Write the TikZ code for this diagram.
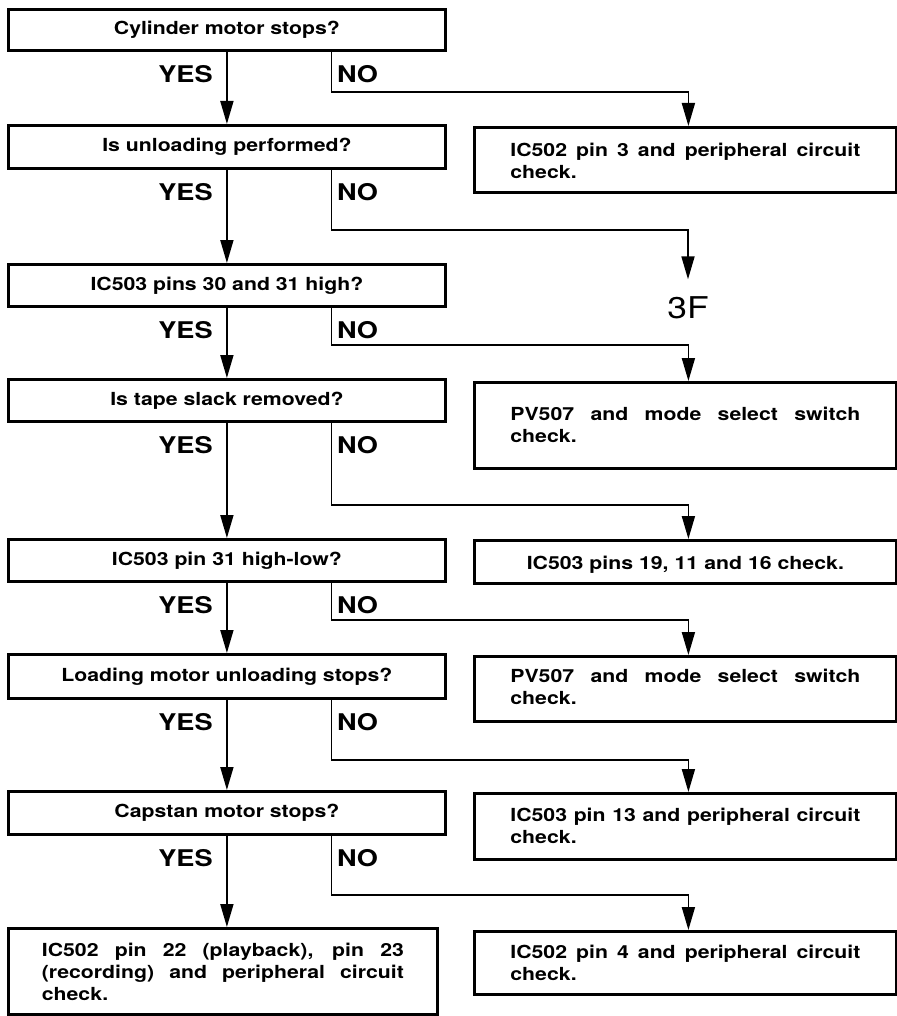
\documentclass[tikz,border=0pt]{standalone}
\usepackage{fontspec}
\setmainfont{TeX Gyre Heros}[FakeStretch=1.18]
\usetikzlibrary{arrows.meta, positioning}

\begin{document}
\begin{tikzpicture}[
    x=1pt, y=1pt,
    % Styles for boxes, labels and arrows
    question/.style={draw, rectangle, line width=2.8pt, anchor=north west,
        minimum width=437pt, inner sep=0pt, font=\bfseries\fontsize{18}{22}\selectfont},
    remedy/.style={draw, rectangle, line width=2.8pt, anchor=north west,
        text width=350pt, inner xsep=36pt, inner ysep=5pt, align=justify,
        font=\bfseries\fontsize{18}{22}\selectfont},
    answer/.style={inner sep=0pt, font=\bfseries\fontsize{23}{23}\selectfont},
    connector/.style={-{Triangle[length=23pt, width=13pt]}, line width=1.8pt}
]
    \useasboundingbox (0,0) rectangle (896,-1016);

    % --- QUESTIONS ---
    % Left column, top to bottom
    \node[question, minimum height=41pt] (q1) at (7,-8) {Cylinder motor stops?};
    \node[question, minimum height=43pt] (q2) at (7,-124) {Is unloading performed?};
    \node[question, minimum height=42pt] (q3) at (7,-263) {IC503 pins 30 and 31 high?};
    \node[question, minimum height=42pt] (q4) at (7,-378) {Is tape slack removed?};
    \node[question, minimum height=42pt] (q5) at (7,-538) {IC503 pin 31 high-low?};
    \node[question, minimum height=44pt] (q6) at (7,-653) {Loading motor unloading stops?};
    \node[question, minimum height=43pt] (q7) at (7,-790) {Capstan motor stops?};
    \node[remedy, text width=362pt, inner xsep=33.5pt, text height=23pt, text depth=53pt] (chk7) at (7,-927)
        {IC502 pin 22 (playback), pin 23\linebreak (recording) and peripheral circuit\linebreak check.};

    % --- CHECKS ---
    % Right column
    \node[remedy, text height=24pt, text depth=31pt] (chk1) at (473,-126)
        {IC502 pin 3 and peripheral circuit\linebreak check.};
    \node[font=\fontsize{30}{30}\selectfont] (f3) at (688,-308) {3F};
    \node[remedy, text height=33pt, text depth=43pt] (chk2) at (473,-381)
        {PV507 and mode select switch\linebreak check.};
    \node[remedy, align=center, text height=24pt, text depth=9pt] (chk3) at (473,-539)
        {IC503 pins 19, 11 and 16 check.};
    \node[remedy, text height=21pt, text depth=34pt] (chk4) at (473,-655)
        {PV507 and mode select switch\linebreak check.};
    \node[remedy, text height=23pt, text depth=33pt] (chk5) at (473,-792)
        {IC503 pin 13 and peripheral circuit\linebreak check.};
    \node[remedy, text height=22pt, text depth=31pt] (chk6) at (473,-930)
        {IC502 pin 4 and peripheral circuit\linebreak check.};

    % --- YES / NO LABELS ---
    \node[answer, anchor=east] (yes1) at ([xshift=-14pt, yshift=-22pt]q1.south) {YES};
    \node[answer, anchor=west] (no1) at ([xshift=110pt, yshift=-22pt]q1.south) {NO};
    \node[answer, anchor=east] (yes2) at ([xshift=-14pt, yshift=-22pt]q2.south) {YES};
    \node[answer, anchor=west] (no2) at ([xshift=110pt, yshift=-22pt]q2.south) {NO};
    \node[answer, anchor=east] (yes3) at ([xshift=-14pt, yshift=-22pt]q3.south) {YES};
    \node[answer, anchor=west] (no3) at ([xshift=110pt, yshift=-22pt]q3.south) {NO};
    \node[answer, anchor=east] (yes4) at ([xshift=-14pt, yshift=-22pt]q4.south) {YES};
    \node[answer, anchor=west] (no4) at ([xshift=110pt, yshift=-22pt]q4.south) {NO};
    \node[answer, anchor=east] (yes5) at ([xshift=-14pt, yshift=-22pt]q5.south) {YES};
    \node[answer, anchor=west] (no5) at ([xshift=110pt, yshift=-22pt]q5.south) {NO};
    \node[answer, anchor=east] (yes6) at ([xshift=-14pt, yshift=-22pt]q6.south) {YES};
    \node[answer, anchor=west] (no6) at ([xshift=110pt, yshift=-22pt]q6.south) {NO};
    \node[answer, anchor=east] (yes7) at ([xshift=-14pt, yshift=-22pt]q7.south) {YES};
    \node[answer, anchor=west] (no7) at ([xshift=110pt, yshift=-22pt]q7.south) {NO};

    % --- CONNECTIONS ---
    % YES path straight down
    \draw[connector] (q1) -- (q2);
    \draw[connector] (q2) -- (q3);
    \draw[connector] (q3) -- (q4);
    \draw[connector] (q4) -- (q5);
    \draw[connector] (q5) -- (q6);
    \draw[connector] (q6) -- (q7);
    \draw[connector] (q7.south) -- (q7.south |- chk7.north);

    % NO paths over to the right column
    \draw[connector] ([xshift=104.5pt]q1.south) -- ++(0,-40) -| ([xshift=3pt]chk1.north);
    \draw[connector] ([xshift=104.5pt]q2.south) -- ++(0,-60) -| ([yshift=14pt]f3.north);
    \draw[connector] ([xshift=104.5pt]q3.south) -- ++(0,-37) -| ([xshift=3pt]chk2.north);
    \draw[connector] ([xshift=104.5pt]q4.south) -- ++(0,-82) -| ([xshift=3pt]chk3.north);
    \draw[connector] ([xshift=104.5pt]q5.south) -- ++(0,-37) -| ([xshift=3pt]chk4.north);
    \draw[connector] ([xshift=104.5pt]q6.south) -- ++(0,-60) -| ([xshift=3pt]chk5.north);
    \draw[connector] ([xshift=104.5pt]q7.south) -- ++(0,-59) -| ([xshift=3pt]chk6.north);

\end{tikzpicture}
\end{document}
